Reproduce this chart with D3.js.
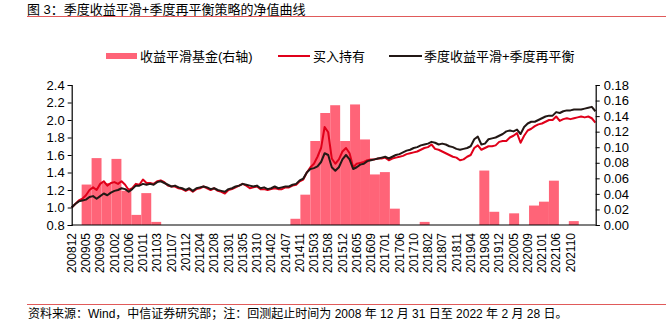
<!DOCTYPE html>
<html>
<head>
<meta charset="utf-8">
<script src="https://cdn.jsdelivr.net/npm/d3@7"></script>
<style>
  html, body { margin: 0; padding: 0; background: #fff; }
  svg { display: block; }
  text { font-family: "Liberation Sans", Arial, "Noto Sans CJK SC", sans-serif; fill: #000; }
</style>
</head>
<body>
<svg id="chart" width="666" height="322"></svg>
<script>
// x axis tick labels (one every 88 trading days from 2008-12-31)
const tickLabels = ["200812","200905","200909","201002","201006","201011","201103","201107",
  "201112","201204","201208","201301","201305","201310","201402","201407","201411","201503",
  "201508","201512","201605","201609","201701","201706","201710","201802","201807","201811",
  "201904","201908","201912","202005","202009","202101","202106","202110"];
const TICK_STEP_DAYS = 88;
const TOTAL_DAYS = 3236;
const SAMPLE_STEP_DAYS = 22;
const QUARTER_DAYS = 61.4;

// NAV of the quarterly smoothing + quarterly rebalancing strategy (sampled every 22 trading days)
const strategyNav = [1.00,1.04,1.07,1.08,1.09,1.12,1.13,1.10,1.13,1.16,
  1.14,1.17,1.19,1.20,1.22,1.21,1.18,1.21,1.25,1.25,
  1.27,1.26,1.27,1.26,1.29,1.30,1.28,1.26,1.24,1.25,
  1.23,1.22,1.20,1.22,1.19,1.22,1.23,1.24,1.23,1.21,
  1.22,1.20,1.19,1.18,1.21,1.22,1.24,1.25,1.27,1.26,
  1.25,1.24,1.25,1.22,1.23,1.21,1.22,1.24,1.22,1.23,
  1.24,1.24,1.26,1.27,1.31,1.33,1.40,1.44,1.45,1.47,
  1.52,1.62,1.60,1.46,1.42,1.46,1.55,1.60,1.55,1.44,
  1.46,1.49,1.50,1.53,1.54,1.55,1.56,1.57,1.58,1.56,
  1.58,1.60,1.61,1.63,1.65,1.66,1.68,1.69,1.71,1.72,
  1.73,1.75,1.74,1.72,1.73,1.72,1.70,1.69,1.67,1.66,
  1.67,1.68,1.70,1.78,1.81,1.72,1.73,1.78,1.79,1.80,
  1.82,1.84,1.87,1.88,1.87,1.89,1.84,1.92,1.96,1.98,
  1.98,2.00,2.02,2.04,2.05,2.05,2.09,2.08,2.10,2.11,
  2.11,2.12,2.12,2.12,2.13,2.14,2.15,2.10];

// NAV of buy-and-hold (same sampling)
const buyHoldNav = [1.00,1.04,1.08,1.10,1.14,1.20,1.23,1.20,1.27,1.30,
  1.25,1.28,1.29,1.27,1.30,1.26,1.20,1.22,1.27,1.26,
  1.32,1.28,1.28,1.27,1.30,1.31,1.29,1.25,1.24,1.24,
  1.22,1.21,1.19,1.21,1.18,1.21,1.22,1.24,1.22,1.20,
  1.22,1.19,1.18,1.16,1.20,1.21,1.23,1.25,1.27,1.25,
  1.22,1.23,1.24,1.21,1.21,1.20,1.21,1.22,1.21,1.21,
  1.23,1.23,1.25,1.26,1.30,1.32,1.40,1.46,1.50,1.58,
  1.68,1.92,1.86,1.56,1.50,1.55,1.64,1.68,1.62,1.46,
  1.50,1.51,1.52,1.54,1.55,1.55,1.56,1.56,1.57,1.54,
  1.56,1.57,1.58,1.59,1.61,1.62,1.63,1.64,1.66,1.68,
  1.69,1.72,1.67,1.66,1.64,1.62,1.60,1.58,1.57,1.54,
  1.55,1.58,1.60,1.68,1.71,1.66,1.68,1.70,1.70,1.71,
  1.75,1.76,1.76,1.80,1.82,1.85,1.74,1.82,1.88,1.90,
  1.93,1.95,1.96,1.98,2.00,2.00,2.04,1.99,2.01,2.02,
  2.01,2.02,2.03,2.04,2.03,2.04,2.02,1.97];

// Quarterly value of the return-smoothing fund (right axis), 2009Q1 .. 2022Q1
const quarters = ["2009Q1","2009Q2","2009Q3","2009Q4","2010Q1","2010Q2","2010Q3","2010Q4",
  "2011Q1","2011Q2","2011Q3","2011Q4","2012Q1","2012Q2","2012Q3","2012Q4",
  "2013Q1","2013Q2","2013Q3","2013Q4","2014Q1","2014Q2","2014Q3","2014Q4",
  "2015Q1","2015Q2","2015Q3","2015Q4","2016Q1","2016Q2","2016Q3","2016Q4",
  "2017Q1","2017Q2","2017Q3","2017Q4","2018Q1","2018Q2","2018Q3","2018Q4",
  "2019Q1","2019Q2","2019Q3","2019Q4","2020Q1","2020Q2","2020Q3","2020Q4",
  "2021Q1","2021Q2","2021Q3","2021Q4","2022Q1"];
const fundValues = [0,0.052,0.086,0.054,0.085,0.044,0.013,0.041,
  0.004,0,0,0,0,0,0,0,
  0,0,0,0,0,0,0.008,0.039,
  0.108,0.144,0.154,0.108,0.155,0.110,0.065,0.068,
  0.021,0,0,0.004,0,0,0,0,
  0,0.070,0.017,0,0.015,0,0.025,0.030,
  0.057,0,0.005,0,0];

const leftTicks = [0.8,1.0,1.2,1.4,1.6,1.8,2.0,2.2,2.4];
const rightTicks = [0,0.02,0.04,0.06,0.08,0.10,0.12,0.14,0.16,0.18];

const PINK = "#ff6478";
const RED = "#e0001a";
const DARK = "#231815";
const RULE = "#e05a5a";

const svg = d3.select("#chart");

// title + rule
svg.append("text").attr("x", 27).attr("y", 14)
  .style("font-size", "13px").text("图 3：季度收益平滑+季度再平衡策略的净值曲线");
svg.append("line").attr("x1", 27).attr("x2", 666).attr("y1", 16.5).attr("y2", 16.5)
  .attr("stroke", RULE).attr("stroke-width", 1.2);

// footer rule + source note
svg.append("line").attr("x1", 27).attr("x2", 666).attr("y1", 304.5).attr("y2", 304.5)
  .attr("stroke", RULE).attr("stroke-width", 1.2);
svg.append("text").attr("x", 28).attr("y", 318)
  .style("font-size", "12px")
  .text("资料来源：Wind，中信证券研究部；注：回测起止时间为 2008 年 12 月 31 日至 2022 年 2 月 28 日。");

// scales
const plotLeft = 71.7, plotRight = 595.7, plotTop = 85, plotBottom = 225;
const x = d3.scaleLinear().domain([0, TOTAL_DAYS]).range([plotLeft, plotRight]);
const yL = d3.scaleLinear().domain([0.8, 2.4]).range([plotBottom, plotTop]);
const yR = d3.scaleLinear().domain([0, 0.18]).range([plotBottom, plotTop]);

// fund bars (right axis)
svg.append("g").selectAll("rect")
  .data(fundValues.map((v, i) => ({q: quarters[i], v, i})).filter(d => d.v > 0))
  .join("rect")
  .attr("x", d => x(d.i * QUARTER_DAYS))
  .attr("width", d => x((d.i + 1) * QUARTER_DAYS) - x(d.i * QUARTER_DAYS))
  .attr("y", d => yR(d.v))
  .attr("height", d => yR(0) - yR(d.v))
  .attr("fill", PINK);

// NAV lines (left axis)
const line = d3.line()
  .x((d, i) => x(i * SAMPLE_STEP_DAYS))
  .y(d => yL(d));
svg.append("path").datum(buyHoldNav).attr("d", line)
  .attr("fill", "none").attr("stroke", RED).attr("stroke-width", 2).attr("stroke-linejoin", "round");
svg.append("path").datum(strategyNav).attr("d", line)
  .attr("fill", "none").attr("stroke", DARK).attr("stroke-width", 2).attr("stroke-linejoin", "round");

// left axis
const gl = svg.append("g").attr("transform", `translate(${plotLeft},0)`)
  .call(d3.axisLeft(yL).tickValues(leftTicks).tickFormat(d3.format(".1f")).tickSize(4).tickPadding(3));
// right axis
const gr = svg.append("g").attr("transform", `translate(${plotRight},0)`)
  .call(d3.axisRight(yR).tickValues(rightTicks).tickFormat(d3.format(".2f")).tickSize(4).tickPadding(4));
[gl, gr].forEach(g => {
  g.select(".domain").attr("stroke", "#000").attr("stroke-width", 1.2);
  g.selectAll(".tick line").attr("stroke", "#000");
  g.selectAll(".tick text").style("font-size", "13px")
    .style("font-family", '"Liberation Sans", Arial, sans-serif').attr("fill", "#000");
});

// bottom axis
const gb = svg.append("g").attr("transform", `translate(0,${plotBottom})`);
gb.append("line").attr("x1", plotLeft).attr("x2", plotRight).attr("y1", 0).attr("y2", 0)
  .attr("stroke", "#000").attr("stroke-width", 1.2);
gb.selectAll("text.xl").data(tickLabels).join("text").attr("class", "xl")
  .attr("transform", (d, i) => `translate(${x(i * TICK_STEP_DAYS) + 4.3},8) rotate(-90)`)
  .attr("text-anchor", "end")
  .style("font-size", "12px")
  .text(d => d);

// legend
const lg = svg.append("g");
lg.append("rect").attr("x", 106).attr("y", 53).attr("width", 31).attr("height", 6).attr("fill", PINK);
lg.append("text").attr("x", 140).attr("y", 60.5).style("font-size", "13px").text("收益平滑基金(右轴)");
lg.append("line").attr("x1", 278).attr("x2", 310).attr("y1", 56).attr("y2", 56)
  .attr("stroke", RED).attr("stroke-width", 2);
lg.append("text").attr("x", 313).attr("y", 60.5).style("font-size", "13px").text("买入持有");
lg.append("line").attr("x1", 389).attr("x2", 422).attr("y1", 56).attr("y2", 56)
  .attr("stroke", DARK).attr("stroke-width", 2);
lg.append("text").attr("x", 424).attr("y", 60.5).style("font-size", "13px").text("季度收益平滑+季度再平衡");
</script>
</body>
</html>
